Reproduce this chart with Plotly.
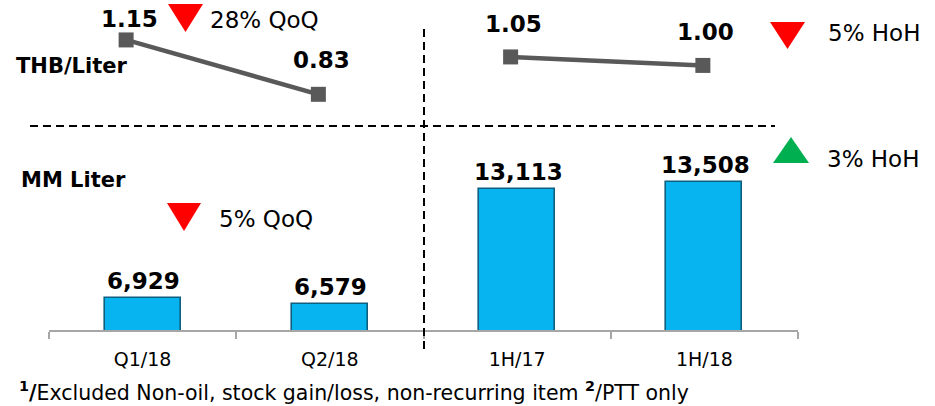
import plotly.graph_objects as go

# ---- data ----
categories = ["Q1/18", "Q2/18", "1H/17", "1H/18"]
volume_mm_liter = [6929, 6579, 13113, 13508]
volume_labels = ["6,929", "6,579", "13,113", "13,508"]
margin_thb_liter = [1.15, 0.83, 1.05, 1.00]
margin_labels = ["1.15", "0.83", "1.05", "1.00"]

# quarterly and half-year comparisons are drawn as separate line segments
period_groups = [slice(0, 2), slice(2, 4)]

# vertical offset (px) of each margin label above its marker
margin_label_shift = [21, 34, 33, 33]

W, H = 935, 406


def px(x):
    return x / W


def py(y):
    return 1 - y / H


FONT = "DejaVu Sans"

fig = go.Figure()

# sales volume bars
fig.add_bar(
    x=categories, y=volume_mm_liter, width=0.405,
    marker=dict(color="#08B4EF", line=dict(color="#0E5F80", width=1.6)),
    xaxis="x", yaxis="y", hoverinfo="skip",
)

# marketing margin lines
for g in period_groups:
    fig.add_scatter(
        x=categories[g], y=margin_thb_liter[g], mode="lines+markers",
        line=dict(color="#595959", width=4.5),
        marker=dict(symbol="square", size=15, color="#595959"),
        xaxis="x2", yaxis="y2", hoverinfo="skip",
    )

annotations = []
for c, v, t in zip(categories, volume_mm_liter, volume_labels):
    annotations.append(dict(
        x=c, y=v, xref="x", yref="y", text=f"<b>{t}</b>", showarrow=False,
        yanchor="bottom", yshift=2, xshift=1,
        font=dict(family=FONT, size=23, color="#000000"),
    ))
for c, v, t, s in zip(categories, margin_thb_liter, margin_labels, margin_label_shift):
    annotations.append(dict(
        x=c, y=v, xref="x2", yref="y2", text=f"<b>{t}</b>", showarrow=False,
        yanchor="middle", yshift=s, xshift=3,
        font=dict(family=FONT, size=23, color="#000000"),
    ))


def label(x, y, text, size, bold=False):
    annotations.append(dict(
        x=px(x), y=py(y), xref="paper", yref="paper",
        text=f"<b>{text}</b>" if bold else text, showarrow=False,
        xanchor="left", yanchor="middle",
        font=dict(family=FONT, size=size, color="#000000"),
    ))


label(14, 66, "THB/Liter", 21, bold=True)
label(19, 180, "MM Liter", 21, bold=True)
label(208, 20, "28% QoQ", 23)
label(217, 219, "5% QoQ", 23)
label(826, 33, "5% HoH", 23)
label(825, 159, "3% HoH", 23)
label(17, 391,
      "<b><sup>1</sup>/</b>Excluded Non-oil, stock gain/loss, non-recurring item "
      "<b><sup>2</sup></b>/PTT only", 20.5)


def triangle(x0, x1, top, bottom, down, color):
    xm = (x0 + x1) / 2
    if down:
        path = f"M {px(x0)},{py(top)} L {px(x1)},{py(top)} L {px(xm)},{py(bottom)} Z"
    else:
        path = f"M {px(x0)},{py(bottom)} L {px(x1)},{py(bottom)} L {px(xm)},{py(top)} Z"
    return dict(type="path", path=path, xref="paper", yref="paper",
                fillcolor=color, line=dict(width=0))


RED, GREEN = "#FF0000", "#00B050"
shapes = [
    triangle(168, 203, 4, 32, True, RED),
    triangle(167, 201, 203, 231, True, RED),
    triangle(770, 805, 22, 49, True, RED),
    triangle(773, 809, 137, 163, False, GREEN),
    dict(type="line", xref="paper", yref="paper",
         x0=px(30), x1=px(775), y0=py(126), y1=py(126),
         line=dict(color="#000000", width=2, dash="8px,5px")),
    dict(type="line", xref="paper", yref="paper",
         x0=px(424), x1=px(424), y0=py(29), y1=py(352),
         line=dict(color="#000000", width=2, dash="8px,5px")),
]

bar_px_per_unit = 0.0176
bar_bottom = 5100
bar_top_px, bar_axis_px = 128, 330
bar_top = bar_bottom + (bar_axis_px - bar_top_px) / bar_px_per_unit

fig.update_layout(
    width=W, height=H,
    margin=dict(l=0, r=0, t=0, b=0),
    paper_bgcolor="white", plot_bgcolor="white",
    showlegend=False,
    bargap=0,
    xaxis=dict(
        domain=[px(49), px(798)], range=[-0.5, 3.5], type="category",
        showline=True, linecolor="#A6A6A6", linewidth=1.5,
        ticks="outside", tickson="boundaries", ticklen=7, tickcolor="#A6A6A6",
        tickwidth=1.5, showgrid=False, zeroline=False,
        tickfont=dict(family=FONT, size=19, color="#000000"),
        ticklabelstandoff=11,
        anchor="y",
    ),
    yaxis=dict(
        domain=[py(bar_axis_px), py(bar_top_px)], range=[bar_bottom, bar_top],
        visible=False, anchor="x",
    ),
    xaxis2=dict(
        domain=[px(30), px(799)], range=[-0.5, 3.5], type="category",
        visible=False, anchor="y2",
    ),
    yaxis2=dict(
        domain=[py(130), 1], range=[0.62, 1.385], visible=False, anchor="x2",
    ),
    annotations=annotations,
    shapes=shapes,
)

fig.write_html("out.html")
